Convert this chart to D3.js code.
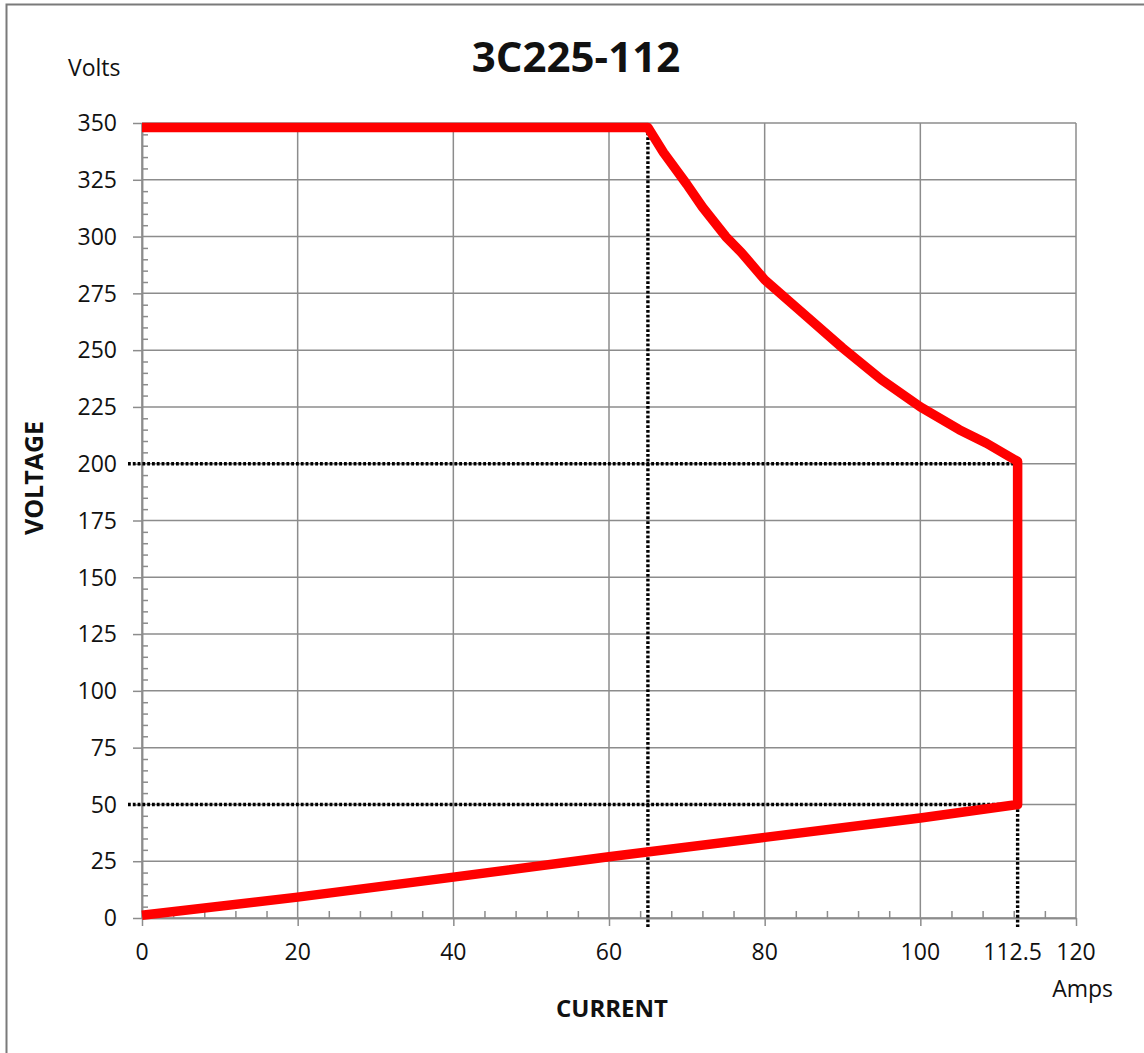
<!DOCTYPE html>
<html>
<head>
<meta charset="utf-8">
<script src="https://cdn.jsdelivr.net/npm/d3@7"></script>
<style>
  body { margin: 0; background: #fff; }
  text { font-family: "Open Sans", sans-serif; fill: #111; }
</style>
</head>
<body>
<div class="graph"></div>
<script>
// chart values
const title = '3C225-112';
const xMajor = [0, 20, 40, 60, 80, 100, 120];
const xLabels = [0, 20, 40, 60, 80, 100, 112.5, 120];
const xMinor = [4, 8, 12, 16, 24, 28, 32, 36, 44, 48, 52, 56, 64, 68, 72, 76, 84, 88, 92, 96, 104, 108, 112, 116];
const yMajor = [0, 25, 50, 75, 100, 125, 150, 175, 200, 225, 250, 275, 300, 325, 350];

// red limit curve: top flat, power limit, current limit, lower line back to origin
const amps  = [0, 65, 67, 70, 72, 75, 77, 80, 84, 90, 95, 100, 105, 108.5, 112.5, 112.5, 100, 80, 60, 40, 20, 0];
const volts = [348, 348, 337, 323, 313, 300, 293, 281, 269, 251, 237, 225, 215, 209, 201, 50, 44, 35.5, 27, 18, 9.2, 1.2];

// dotted guide lines [x1, y1, x2, y2] in data units
const guides = [
    [65, 348, 65, null],
    [112.5, 50, 112.5, null],
    [null, 200, 112.5, 200],
    [null, 50, 112.5, 50]
];

const W = 1144, H = 1053;
const plot = { left: 142, right: 1076, top: 123, bottom: 918 };

const svg = d3.select('.graph').append('svg')
    .attr('width', W)
    .attr('height', H);

// outer frame (only top and left visible)
svg.append('path')
    .attr('d', 'M6.5,' + H + ' L6.5,4.5 L' + W + ',4.5')
    .attr('fill', 'none')
    .attr('stroke', '#7a7a7a')
    .attr('stroke-width', 2);

const x = d3.scaleLinear().domain([0, 120]).range([plot.left, plot.right]);
const y = d3.scaleLinear().domain([0, 350]).range([plot.bottom, plot.top]);

const gridColor = '#8c8c8c';

// gridlines
svg.append('g').selectAll('line')
    .data(xMajor).enter().append('line')
        .attr('x1', d => x(d)).attr('x2', d => x(d))
        .attr('y1', plot.top).attr('y2', plot.bottom)
        .attr('stroke', gridColor).attr('stroke-width', 1.5);

svg.append('g').selectAll('line')
    .data(yMajor).enter().append('line')
        .attr('x1', plot.left).attr('x2', plot.right)
        .attr('y1', d => y(d)).attr('y2', d => y(d))
        .attr('stroke', gridColor).attr('stroke-width', 1.5);

// axes ticks
const styleAxis = g => {
    g.select('.domain').attr('stroke', gridColor).attr('stroke-width', 1.5);
    g.selectAll('.tick line').attr('stroke', gridColor).attr('stroke-width', 1.5);
    g.selectAll('text').remove();
};

svg.append('g')
    .attr('transform', 'translate(0,' + plot.bottom + ')')
    .call(d3.axisBottom(x).tickValues(xMajor).tickSize(8).tickSizeOuter(0))
    .call(styleAxis);

svg.append('g')
    .attr('transform', 'translate(0,' + plot.bottom + ')')
    .call(d3.axisTop(x).tickValues(xMinor).tickSize(7).tickSizeOuter(0))
    .call(styleAxis);

svg.append('g')
    .attr('transform', 'translate(' + plot.left + ',0)')
    .call(d3.axisLeft(y).tickValues(yMajor).tickSize(9).tickSizeOuter(0))
    .call(styleAxis);

svg.append('g')
    .attr('transform', 'translate(' + plot.left + ',0)')
    .call(d3.axisRight(y).tickValues(d3.range(0, 351, 5).filter(v => v % 25 !== 0)).tickSize(6).tickSizeOuter(0))
    .call(styleAxis);

// tick labels
svg.append('g').selectAll('text')
    .data(xLabels).enter().append('text')
        .attr('x', d => d === 112.5 ? x(d) - 5 : x(d))
        .attr('y', 960)
        .attr('text-anchor', 'middle')
        .style('font-size', '23px')
        .text(d => d);

svg.append('g').selectAll('text')
    .data(yMajor).enter().append('text')
        .attr('x', 117)
        .attr('y', d => y(d))
        .attr('dy', '0.36em')
        .attr('text-anchor', 'end')
        .style('font-size', '23px')
        .text(d => d);

// dotted guides
svg.append('g').selectAll('line')
    .data(guides).enter().append('line')
        .attr('x1', d => d[0] === null ? 128 : x(d[0]))
        .attr('y1', d => y(d[1]))
        .attr('x2', d => x(d[2]))
        .attr('y2', d => d[3] === null ? 927 : y(d[3]))
        .attr('stroke', '#000')
        .attr('stroke-width', 3.4)
        .attr('stroke-dasharray', '2.8,2');

// red curve
const line = d3.line()
    .x((d, i) => x(amps[i]))
    .y(d => y(d));

svg.append('path')
    .datum(volts)
    .attr('d', line)
    .attr('fill', 'none')
    .attr('stroke', '#ff0000')
    .attr('stroke-width', 9.5)
    .attr('stroke-linejoin', 'round');

// titles
svg.append('text')
    .attr('x', 576)
    .attr('y', 72)
    .attr('text-anchor', 'middle')
    .style('font-size', '42px')
    .style('font-weight', 'bold')
    .text(title);

svg.append('text')
    .attr('x', 68)
    .attr('y', 76)
    .style('font-size', '23px')
    .text('Volts');

svg.append('text')
    .attr('x', 1113)
    .attr('y', 997)
    .attr('text-anchor', 'end')
    .style('font-size', '23px')
    .text('Amps');

svg.append('text')
    .attr('x', 612)
    .attr('y', 1017)
    .attr('text-anchor', 'middle')
    .style('font-size', '24px')
    .style('font-weight', 'bold')
    .text('CURRENT');

svg.append('text')
    .attr('transform', 'translate(43,478) rotate(-90)')
    .attr('text-anchor', 'middle')
    .style('font-size', '25px')
    .style('font-weight', 'bold')
    .text('VOLTAGE');
</script>
</body>
</html>
